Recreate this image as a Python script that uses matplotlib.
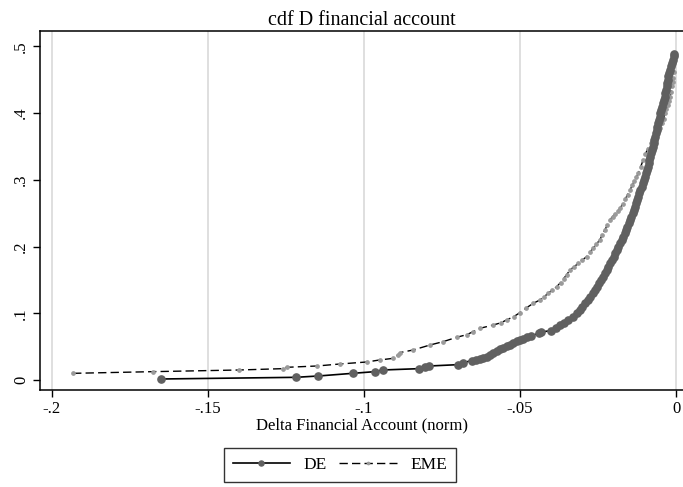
import matplotlib
matplotlib.use("Agg")
import matplotlib.pyplot as plt
from matplotlib.ticker import FixedLocator

plt.rcParams['font.family'] = ['Liberation Serif', 'DejaVu Serif']

title = "cdf D financial account"
xlabel = "Delta Financial Account (norm)"
series_names = ["DE", "EME"]
xticks = [-0.2, -0.15, -0.1, -0.05, 0.0]
xtick_labels = ["-.2", "-.15", "-.1", "-.05", "0"]
yticks = [0.0, 0.1, 0.2, 0.3, 0.4, 0.5]
ytick_labels = ["0", ".1", ".2", ".3", ".4", ".5"]

de_x = [-0.1651, -0.1219, -0.1146, -0.1036, -0.0965, -0.0940, -0.0823, -0.0804,
        -0.0790, -0.0698, -0.0682, -0.0655, -0.0640, -0.0628, -0.0617, -0.0607,
        -0.0596, -0.0585, -0.0575, -0.0564, -0.0553, -0.0543, -0.0532, -0.0521,
        -0.0510, -0.0500, -0.0490, -0.0479, -0.0465, -0.0440, -0.0432, -0.0400,
        -0.0385, -0.0373, -0.0360, -0.0347, -0.0330, -0.0318, -0.0308, -0.0300,
        -0.0291, -0.0283, -0.0276, -0.0266, -0.0258, -0.0252, -0.0246, -0.0240,
        -0.0233, -0.0227, -0.0222, -0.0217, -0.0211, -0.0206, -0.0200, -0.0195,
        -0.0190, -0.0185, -0.0179, -0.0174, -0.0170, -0.0165, -0.0160, -0.0156,
        -0.0151, -0.0147, -0.0143, -0.0139, -0.0136, -0.0132, -0.0128, -0.0125,
        -0.0121, -0.0117, -0.0114, -0.0110, -0.0107, -0.0103, -0.0099, -0.0097,
        -0.0094, -0.0091, -0.0088, -0.0086, -0.0083, -0.0080, -0.0078, -0.0075,
        -0.0072, -0.0070, -0.0067, -0.0065, -0.0062, -0.0060, -0.0057, -0.0055,
        -0.0052, -0.0050, -0.0047, -0.0044, -0.0041, -0.0039, -0.0036, -0.0034,
        -0.0032, -0.0030, -0.0028, -0.0027, -0.0025, -0.0023, -0.0020, -0.0017,
        -0.0014, -0.0011, -0.0008, -0.0005]
de_y = [0.0015, 0.004, 0.006, 0.010, 0.0125, 0.015, 0.017, 0.019,
        0.021, 0.023, 0.026, 0.029, 0.030, 0.0315, 0.033, 0.035,
        0.037, 0.040, 0.043, 0.046, 0.048, 0.051, 0.053, 0.056,
        0.058, 0.060, 0.062, 0.064, 0.066, 0.070, 0.072, 0.074,
        0.078, 0.082, 0.086, 0.090, 0.095, 0.100, 0.105, 0.110,
        0.115, 0.120, 0.125, 0.130, 0.135, 0.140, 0.145, 0.150,
        0.155, 0.160, 0.165, 0.170, 0.175, 0.180, 0.185, 0.190,
        0.195, 0.200, 0.205, 0.210, 0.215, 0.220, 0.225, 0.230,
        0.235, 0.240, 0.245, 0.250, 0.255, 0.260, 0.265, 0.270,
        0.275, 0.280, 0.285, 0.290, 0.295, 0.300, 0.305, 0.310,
        0.315, 0.320, 0.325, 0.330, 0.335, 0.340, 0.345, 0.350,
        0.355, 0.360, 0.365, 0.370, 0.375, 0.380, 0.385, 0.390,
        0.395, 0.400, 0.405, 0.410, 0.415, 0.420, 0.425, 0.430,
        0.435, 0.440, 0.445, 0.450, 0.455, 0.460, 0.465, 0.470,
        0.475, 0.480, 0.485, 0.489]

eme_x = [-0.1932, -0.1676, -0.1400, -0.1260, -0.1248, -0.1150, -0.1077, -0.0991,
         -0.0950, -0.0906, -0.0890, -0.0885, -0.0842, -0.0788, -0.0746, -0.0703,
         -0.0670, -0.0650, -0.0628, -0.0585, -0.0560, -0.0543, -0.0520, -0.0500,
         -0.0480, -0.0457, -0.0436, -0.0422, -0.0410, -0.0396, -0.0382, -0.0370,
         -0.0360, -0.0350, -0.0340, -0.0326, -0.0313, -0.0300, -0.0286, -0.0275,
         -0.0265, -0.0255, -0.0244, -0.0236, -0.0228, -0.0220, -0.0212, -0.0203,
         -0.0195, -0.0187, -0.0179, -0.0171, -0.0163, -0.0155, -0.0147, -0.0140,
         -0.0134, -0.0127, -0.0121, -0.0113, -0.0105, -0.0098, -0.0090, -0.0081,
         -0.0073, -0.0066, -0.0060, -0.0052, -0.0045, -0.0040, -0.0035, -0.0031,
         -0.0027, -0.0023, -0.0019, -0.0016, -0.0013, -0.0011, -0.0009, -0.0006]
eme_y = [0.010, 0.0125, 0.015, 0.017, 0.019, 0.021, 0.024, 0.027,
         0.030, 0.0325, 0.038, 0.041, 0.045, 0.0525, 0.0575, 0.064,
         0.068, 0.0725, 0.0775, 0.0825, 0.086, 0.090, 0.095, 0.101,
         0.108, 0.115, 0.120, 0.125, 0.130, 0.135, 0.140, 0.146,
         0.152, 0.158, 0.165, 0.170, 0.175, 0.180, 0.185, 0.192,
         0.198, 0.204, 0.210, 0.218, 0.225, 0.232, 0.240, 0.245,
         0.249, 0.253, 0.2575, 0.264, 0.271, 0.278, 0.285, 0.292,
         0.298, 0.304, 0.310, 0.320, 0.330, 0.339, 0.347, 0.355,
         0.362, 0.367, 0.372, 0.378, 0.385, 0.392, 0.400, 0.406,
         0.412, 0.418, 0.425, 0.432, 0.440, 0.446, 0.452, 0.462]

fig = plt.figure(figsize=(6.83, 4.87), dpi=100)
ax = fig.add_axes([40/683, 97/487, 643/683, 359/487])

ax.plot(de_x, de_y, color='black', lw=1.2, marker='o', markersize=5.2,
        markerfacecolor='#606060', markeredgecolor='#606060', label=series_names[0], zorder=3)
ax.plot(eme_x, eme_y, color='black', lw=1.0, ls=(0, (6, 3)), marker='o', markersize=2.4,
        markerfacecolor='#9a9a9a', markeredgecolor='#9a9a9a', label=series_names[1], zorder=2)

ax.set_xlim(-0.2038, 0.00224)
ax.set_ylim(-0.015, 0.5232)

ax.xaxis.set_major_locator(FixedLocator(xticks))
ax.set_xticklabels(xtick_labels)
ax.yaxis.set_major_locator(FixedLocator(yticks))
ax.set_yticklabels(ytick_labels, rotation=90, va='center')

ax.grid(axis='x', color='#dcdcdc', lw=1.3)
ax.set_axisbelow(True)
ax.spines['right'].set_visible(False)
for s in ['left', 'top', 'bottom']:
    ax.spines[s].set_linewidth(1.1)
ax.tick_params(axis='both', direction='out', length=5, width=1, labelsize=12, pad=3)

ax.set_title(title, fontsize=14.5, pad=4)
ax.set_xlabel(xlabel, fontsize=12, labelpad=0)

leg = fig.legend(loc='center', bbox_to_anchor=(340/683, 1 - 465/487), ncol=2, frameon=True,
                 fancybox=False, edgecolor='black', fontsize=12.5, handlelength=3.3,
                 handletextpad=0.8, columnspacing=0.7, borderpad=0.5, markerscale=0.7)
leg.get_frame().set_linewidth(1.0)

fig.savefig('out.png', dpi=100)
